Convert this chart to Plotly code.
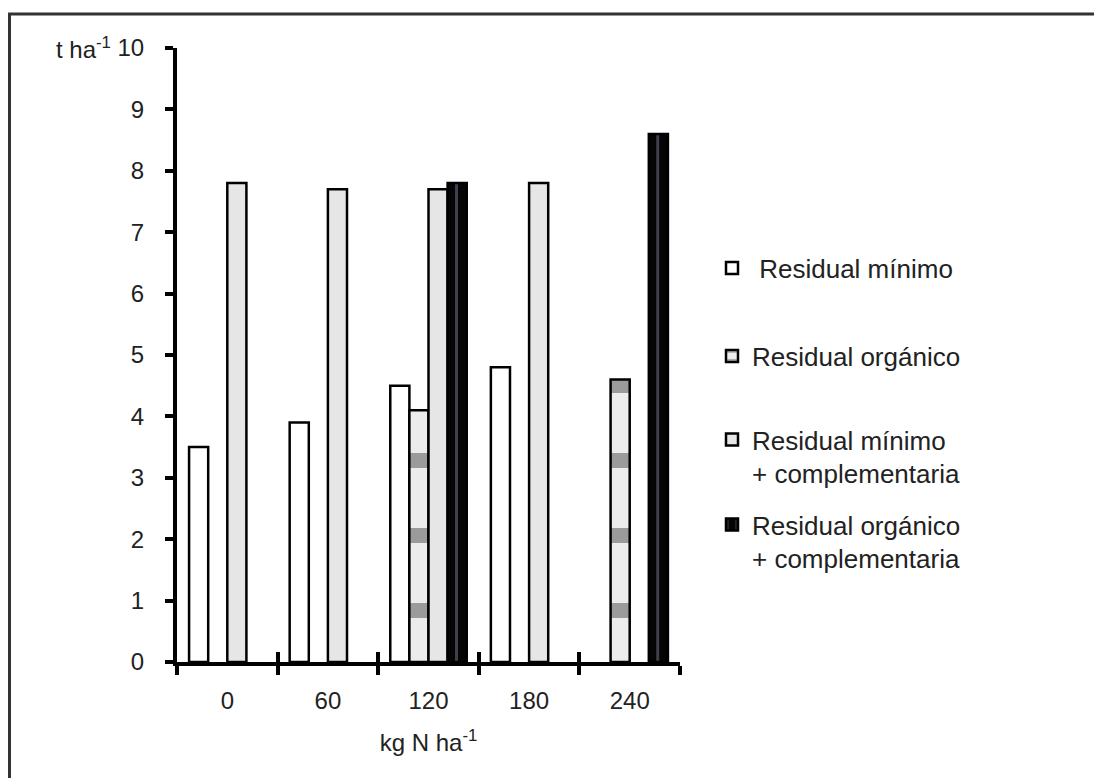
import plotly.graph_objects as go

# ---- data ----
categories = ["0", "60", "120", "180", "240"]
residual_minimo = [3.5, 3.9, 4.5, 4.8, None]
residual_organico = [None, None, 4.1, None, 4.6]
residual_minimo_comp = [7.8, 7.7, 7.7, 7.8, None]
residual_organico_comp = [None, None, 7.8, None, 8.6]

series_names = [
    "\u00a0Residual mínimo",
    "Residual orgánico",
    "Residual mínimo<br>+ complementaria",
    "Residual orgánico<br>+ complementaria",
]
y_ticks = list(range(0, 11))
boundary_ticks = [-0.5, 0.5, 1.5, 2.5, 3.5, 4.5]

W, H = 1094, 778
ML, MR, MT, MB = 177, 414, 48, 116
PW, PH = W - ML - MR, H - MT - MB

FONT = "Liberation Sans, Arial, Helvetica, sans-serif"
TXT = "#222222"

def px_x(p):
    return (p - ML) / PW

def px_y(p):
    return (H - MB - p) / PH

fig = go.Figure()

styles = [
    dict(color="white", line=dict(color="black", width=2.5)),
    dict(color="#d8d8d8", line=dict(color="black", width=2.5),
         pattern=dict(shape="-", fgcolor="#4a4a4a", bgcolor="#ececec", size=75, solidity=0.2)),
    dict(color="#e6e6e6", line=dict(color="black", width=2.5)),
    dict(color="black", line=dict(color="black", width=2.5),
         pattern=dict(shape="|", fgcolor="#7b7b98", bgcolor="#050505", size=22.36, solidity=0.13)),
]
values = [residual_minimo, residual_organico, residual_minimo_comp, residual_organico_comp]
legends = ["legend", "legend2", "legend3", "legend4"]

for name, vals, st, lg in zip(series_names, values, styles, legends):
    fig.add_trace(go.Bar(x=categories, y=vals, name=name, marker=st, legend=lg, showlegend=True))

# invisible helper trace so the overlay axis (inside boundary ticks) is drawn
fig.add_trace(go.Scatter(x=boundary_ticks, y=[0] * len(boundary_ticks), xaxis="x2", yaxis="y",
                         mode="markers", marker=dict(opacity=0, size=1),
                         showlegend=False, hoverinfo="skip"))

legend_common = dict(
    font=dict(family=FONT, size=26, color=TXT),
    bgcolor="rgba(0,0,0,0)",
    borderwidth=0,
    valign="top",
    xanchor="left",
    x=px_x(712),
    visible=True,
)

fig.update_layout(
    width=W, height=H,
    margin=dict(l=ML, r=MR, t=MT, b=MB),
    paper_bgcolor="white",
    plot_bgcolor="white",
    barmode="group",
    bargap=0.24,
    bargroupgap=0,
    showlegend=True,
    font=dict(family=FONT, size=24, color=TXT),
    legend=dict(**legend_common, yanchor="middle", y=px_y(268)),
    legend2=dict(**legend_common, yanchor="middle", y=px_y(356)),
    legend3=dict(**legend_common, yanchor="top", y=px_y(416)),
    legend4=dict(**legend_common, yanchor="top", y=px_y(501)),
    xaxis=dict(
        type="category",
        range=[-0.5, 4.5],
        showline=True, linewidth=4, linecolor="black",
        ticks="outside", tickson="boundaries", ticklen=9, tickwidth=4, tickcolor="black",
        showgrid=False, zeroline=False,
        tickfont=dict(family=FONT, size=24, color=TXT),
        ticklabelstandoff=14,
        title=dict(text="kg N ha<sup>-1</sup>", font=dict(family=FONT, size=24, color=TXT), standoff=22),
        fixedrange=True,
    ),
    xaxis2=dict(
        overlaying="x", anchor="y", side="bottom",
        range=[-0.5, 4.5],
        tickmode="array", tickvals=boundary_ticks,
        ticks="inside", ticklen=10, tickwidth=4, tickcolor="black",
        showticklabels=False, showline=False, showgrid=False, zeroline=False,
        fixedrange=True,
    ),
    yaxis=dict(
        range=[0, 10],
        tickmode="array", tickvals=y_ticks,
        showline=True, linewidth=4, linecolor="black",
        ticks="outside", ticklen=8, tickwidth=4, tickcolor="black",
        showgrid=False, zeroline=False,
        tickfont=dict(family=FONT, size=24, color=TXT),
        ticklabelstandoff=16,
        fixedrange=True,
    ),
    annotations=[
        dict(text="t ha<sup>-1</sup>", xref="paper", yref="y", x=0, y=10,
             xanchor="right", yanchor="middle", xshift=-64, showarrow=False,
             font=dict(family=FONT, size=24, color=TXT)),
    ],
    shapes=[
        dict(type="rect", xref="paper", yref="paper",
             x0=px_x(9.5), x1=px_x(1300), y0=px_y(1000), y1=px_y(14),
             line=dict(color="#333333", width=3), fillcolor="rgba(0,0,0,0)", layer="below"),
    ],
)

fig.write_html("out.html")
